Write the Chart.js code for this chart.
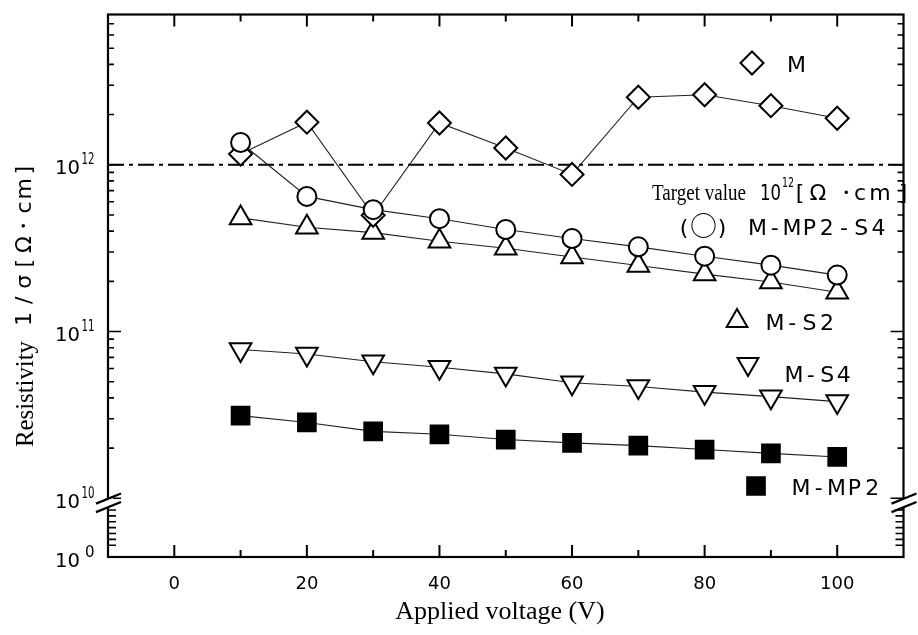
<!DOCTYPE html>
<html>
<head>
<meta charset="utf-8">
<script src="https://cdn.jsdelivr.net/npm/chart.js@4.4.0/dist/chart.umd.min.js"></script>
<style>
    html, body { margin: 0; padding: 0; background: #fff; }
    #wrap { width: 918px; height: 635px; }
</style>
</head>
<body>
<div id="wrap"><canvas id="resChart" width="918" height="635"></canvas></div>
<script>
// ===== DATA =====
const voltages = [10, 20, 30, 40, 50, 60, 70, 80, 90, 100];
const resM      = [1.16e12, 1.80e12, 4.98e11, 1.78e12, 1.26e12, 8.75e11, 2.54e12, 2.63e12, 2.26e12, 1.90e12];
const resMMP2S4 = [1.36e12, 6.46e11, 5.38e11, 4.75e11, 4.09e11, 3.61e11, 3.22e11, 2.83e11, 2.50e11, 2.18e11];
const resMS2    = [4.80e11, 4.22e11, 3.92e11, 3.48e11, 3.16e11, 2.80e11, 2.49e11, 2.21e11, 1.98e11, 1.72e11];
const resMS4    = [7.80e10, 7.33e10, 6.59e10, 6.11e10, 5.57e10, 4.93e10, 4.68e10, 4.33e10, 4.07e10, 3.80e10];
const resMMP2   = [3.13e10, 2.85e10, 2.52e10, 2.42e10, 2.25e10, 2.15e10, 2.07e10, 1.96e10, 1.86e10, 1.77e10];
const targetValue = 1e12;
const xTicks = [0, 20, 40, 60, 80, 100];
const yDecades = [10, 11, 12];   // exponents shown above the axis break
const yBottomExp = 0;            // 10^0 shown below the break

// ===== AXIS (log10 units, with a compressed 10^0..10^10 segment) =====
const Y_BREAK = 9.648;
const Y_TOP = 12.901;
function toAxis(v) {
    const l = Math.log10(v);
    return l >= 10 ? l : Y_BREAK + l / 10 * (10 - Y_BREAK);
}
function pts(arr) {
    return voltages.map((x, i) => ({ x: x, y: toAxis(arr[i]) }));
}

const SANS = '"DejaVu Sans", "Liberation Sans", sans-serif';
const SERIF = '"Liberation Serif", "Times New Roman", serif';

function baseSet(label, arr, style, radius, extra) {
    return Object.assign({
        label: label,
        data: pts(arr),
        borderColor: '#222',
        borderWidth: 1.1,
        tension: 0,
        pointStyle: style,
        pointRadius: radius,
        pointBorderWidth: 2,
        pointBorderColor: '#000',
        pointBackgroundColor: '#fff'
    }, extra || {});
}

// ===== HELPERS =====
function drawPow(ctx, exp, x, yBase, big, small, rise, gap) {
    ctx.textAlign = 'left';
    ctx.font = big + 'px ' + SANS;
    ctx.fillText('10', x, yBase, 25);
    const w = Math.min(25, ctx.measureText('10').width);
    ctx.font = small + 'px ' + SANS;
    ctx.fillText(exp, x + w + gap, yBase - rise, 13);
}

function drawSpaced(ctx, text, cx0, pitch, yBase) {
    ctx.textAlign = 'center';
    [...text].forEach((ch, i) => ctx.fillText(ch, cx0 + i * pitch, yBase));
}

function marker(ctx, style, r, rot, x, y, fill) {
    ctx.fillStyle = fill;
    ctx.strokeStyle = '#000';
    ctx.lineWidth = 2;
    Chart.helpers.drawPoint(ctx, { pointStyle: style, radius: r, rotation: rot, borderWidth: 2 }, x, y);
    ctx.fillStyle = '#000';
}

// ===== FRAME, TICKS, LABELS =====
const framePlugin = {
    id: 'frame',
    afterDraw(chart) {
        const ctx = chart.ctx;
        const a = chart.chartArea;
        const xs = chart.scales.x, ys = chart.scales.y;
        ctx.save();
        ctx.strokeStyle = '#000';
        ctx.fillStyle = '#000';

        // x ticks (inward, bottom and top)
        ctx.lineWidth = 2;
        ctx.beginPath();
        for (let v = 0; v <= 100; v += 10) {
            const px = xs.getPixelForValue(v);
            const len = v % 20 === 0 ? 12 : 7;
            ctx.moveTo(px, a.bottom); ctx.lineTo(px, a.bottom - len);
            ctx.moveTo(px, a.top); ctx.lineTo(px, a.top + len);
        }
        ctx.stroke();

        // y ticks (inward, left and right)
        function yTick(val, len) {
            const py = ys.getPixelForValue(val);
            ctx.moveTo(a.left, py); ctx.lineTo(a.left + len, py);
            ctx.moveTo(a.right, py); ctx.lineTo(a.right - len, py);
        }
        ctx.lineWidth = 1.6;
        ctx.beginPath();
        yDecades.forEach(n => {
            yTick(n, 13);
            for (let m = 2; m <= 9; m++) {
                const val = n + Math.log10(m);
                if (val < Y_TOP) yTick(val, 6);
            }
        });
        for (let n = 2; n <= 8; n++) yTick(toAxis(Math.pow(10, n)), 8);
        ctx.stroke();

        // frame
        ctx.lineWidth = 2.2;
        ctx.strokeRect(a.left, a.top, a.right - a.left, a.bottom - a.top);

        // axis breaks
        const yb = ys.getPixelForValue(10);
        [a.left, a.right].forEach(X => {
            const s = 10.5 / 26;
            const y1 = yb + 0.5, y2 = yb + 9;
            ctx.fillStyle = '#fff';
            ctx.beginPath();
            ctx.moveTo(X - 5, y1 + 5 * s);
            ctx.lineTo(X + 5, y1 - 5 * s);
            ctx.lineTo(X + 5, y2 - 5 * s);
            ctx.lineTo(X - 5, y2 + 5 * s);
            ctx.closePath();
            ctx.fill();
            ctx.lineWidth = 2.2;
            ctx.beginPath();
            [y1, y2].forEach(yy => {
                ctx.moveTo(X - 12, yy + 12 * s);
                ctx.lineTo(X + 13, yy - 13 * s);
            });
            ctx.stroke();
        });
        ctx.fillStyle = '#000';

        // y tick labels
        ctx.textBaseline = 'alphabetic';
        yDecades.forEach(n => {
            const py = ys.getPixelForValue(n);
            drawPow(ctx, String(n), 55, py + 9.5, 20, 15, 10, 1.5);
        });
        const p0 = ys.getPixelForValue(Y_BREAK);
        drawPow(ctx, String(yBottomExp), 55, p0 + 9.5, 20, 15, 10, 5);

        // in-plot legend
        ctx.font = '22px ' + SANS;
        marker(ctx, 'rectRot', 11.5, 0, 752, 63, '#fff');
        ctx.textAlign = 'left';
        ctx.fillText('M', 787, 71.5);

        ctx.font = '23px ' + SERIF;
        ctx.textAlign = 'left';
        ctx.fillText('Target value', 652, 200, 94);
        ctx.font = '21px ' + SANS;
        ctx.fillText('10', 760, 200, 21);
        ctx.font = '14px ' + SANS;
        ctx.fillText(String(Math.round(Math.log10(targetValue))), 782, 187, 12);
        ctx.font = '22px ' + SANS;
        ctx.textAlign = 'center';
        ctx.fillText('[', 800, 200);
        ctx.fillText('\u03A9', 818, 200);
        ctx.fillText('\u30FB', 846, 200);
        ctx.fillText('c', 860, 200);
        ctx.fillText('m', 880, 200);
        ctx.fillText(']', 903, 200);

        ctx.fillText('(', 684, 235);
        ctx.fillText(')', 722, 235);
        ctx.font = '27px "Noto Sans CJK JP", ' + SANS;
        ctx.fillText('\u25CB', 703.5, 236);
        ctx.font = '22px ' + SANS;
        drawSpaced(ctx, 'M-MP2-S4', 757.5, 17.3, 235);

        marker(ctx, 'triangle', 12, 0, 737, 321, '#fff');
        drawSpaced(ctx, 'M-S2', 775, 17.3, 330);

        marker(ctx, 'triangle', 12, 180, 748, 364, '#fff');
        drawSpaced(ctx, 'M-S4', 794, 16.6, 382);

        marker(ctx, 'rect', 12.5, 0, 756, 486, '#000');
        drawSpaced(ctx, 'M-MP2', 801, 17.8, 495);

        // axis titles
        ctx.textAlign = 'center';
        ctx.font = '26px ' + SERIF;
        ctx.fillText('Applied voltage (V)', 500, 619, 217);

        ctx.save();
        ctx.translate(33, 447);
        ctx.rotate(-Math.PI / 2);
        ctx.textAlign = 'left';
        ctx.font = '25px ' + SERIF;
        ctx.fillText('Resistivity', 0, 0, 106);
        ctx.font = '22px ' + SANS;
        drawSpaced(ctx, '1/\u03C3[\u03A9\u30FBcm]', 128, 18.6, -2);
        ctx.restore();

        ctx.restore();
    }
};

// ===== CHART =====
const chart = new Chart(document.getElementById('resChart'), {
    type: 'line',
    data: {
        datasets: [
            baseSet('M-MP2-S4', resMMP2S4, 'circle', 9.5),
            baseSet('M', resM, 'rectRot', 11.5),
            baseSet('M-S2', resMS2, 'triangle', 12.5),
            baseSet('M-S4', resMS4, 'triangle', 12.5, { pointRotation: 180 }),
            baseSet('M-MP2', resMMP2, 'rect', 12.5, { pointBackgroundColor: '#000' }),
            {
                label: 'Target value',
                data: [{ x: -10, y: toAxis(targetValue) }, { x: 110, y: toAxis(targetValue) }],
                borderColor: '#000',
                borderWidth: 2,
                borderDash: [16, 5, 4, 5],
                pointRadius: 0
            }
        ]
    },
    options: {
        responsive: false,
        animation: false,
        layout: { padding: { top: 13, right: 11, left: 0, bottom: 0 } },
        plugins: {
            legend: { display: false },
            tooltip: { enabled: false }
        },
        scales: {
            x: {
                type: 'linear',
                min: -10,
                max: 110,
                afterBuildTicks: s => { s.ticks = xTicks.map(v => ({ value: v })); },
                afterFit: s => { s.height = 78; },
                grid: { display: false, drawTicks: false },
                border: { display: false },
                ticks: {
                    color: '#000',
                    padding: 17,
                    maxRotation: 0,
                    font: { family: SANS, size: 18 }
                }
            },
            y: {
                type: 'linear',
                min: Y_BREAK,
                max: Y_TOP,
                afterFit: s => { s.width = 108; },
                grid: { display: false, drawTicks: false },
                border: { display: false },
                ticks: { display: false }
            }
        }
    },
    plugins: [framePlugin]
});
</script>
</body>
</html>
